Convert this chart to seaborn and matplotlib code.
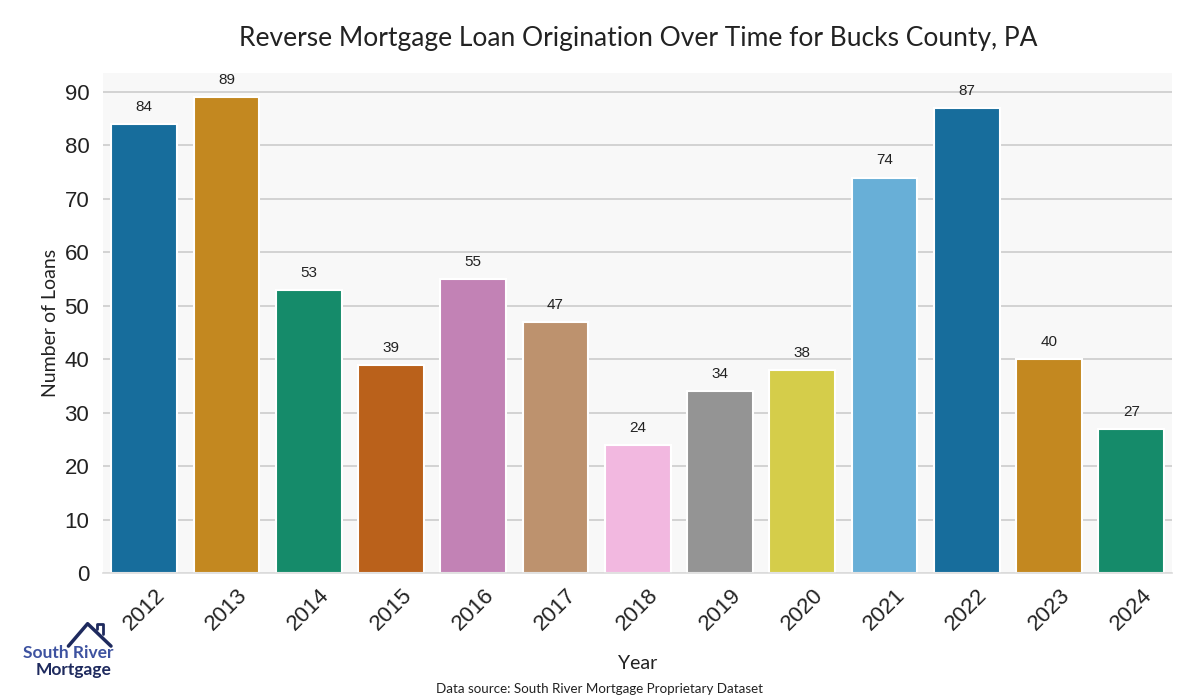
import numpy as np
import pandas as pd
import matplotlib.pyplot as plt
import seaborn as sns

sns.set_theme(style="whitegrid")
plt.rcParams['font.family'] = ['Liberation Sans', 'DejaVu Sans']

years = ['2012', '2013', '2014', '2015', '2016', '2017', '2018',
         '2019', '2020', '2021', '2022', '2023', '2024']
loans = [84, 89, 53, 39, 55, 47, 24, 34, 38, 74, 87, 40, 27]

df = pd.DataFrame({'Year': years, 'Loans': loans})
pal = sns.color_palette('colorblind', 10)
pal = [pal[i % 10] for i in range(len(years))]

fig = plt.figure(figsize=(12, 7), dpi=100)
ax = fig.add_axes([0.086, 0.181, 0.891, 0.714])
ax.set_facecolor('#f8f8f8')

sns.barplot(data=df, x='Year', y='Loans', hue='Year', palette=pal,
            legend=False, edgecolor='white', linewidth=1.5, ax=ax)

for p, v in zip(ax.patches, loans):
    ax.annotate(str(v), (p.get_x() + p.get_width() / 2, v + 1.9),
                ha='center', va='bottom', fontsize=11, color='#222222')

ax.set_ylim(0, max(loans) * 1.05)
ax.set_yticks(range(0, 91, 10))
ax.grid(axis='x', visible=False)
ax.grid(axis='y', color='#cccccc', linewidth=1.2)
for s in ax.spines.values():
    s.set_visible(False)
ax.spines['bottom'].set_visible(True)
ax.spines['bottom'].set_color('#dddddd')

ax.tick_params(axis='y', labelsize=16, colors='#222222', pad=4)
ax.tick_params(axis='x', labelsize=16, colors='#222222', rotation=45, pad=2)
for lbl in ax.get_xticklabels():
    lbl.set_ha('center')

ax.set_xlabel('Year', fontsize=14, family=['Lato', 'DejaVu Sans'], color='#222222', labelpad=15)
ax.set_ylabel('Number of Loans', fontsize=14, family=['Lato', 'DejaVu Sans'], color='#222222')
fig.text(0.532, 0.945, 'Reverse Mortgage Loan Origination Over Time for Bucks County, PA',
         ha='center', va='center', fontsize=19, family=['Lato', 'DejaVu Sans'], color='#222222')
fig.text(0.5, 0.016, 'Data source: South River Mortgage Proprietary Dataset',
         ha='center', va='center', fontsize=9.6, family=['Lato', 'DejaVu Sans'], color='#222222')

# logo
fig.text(0.019, 0.067, 'South River', ha='left', va='center', fontsize=12.5,
         fontweight='bold', color='#3d52a0', family=['Lato', 'DejaVu Sans'])
fig.text(0.030, 0.043, 'Mortgage', ha='left', va='center', fontsize=12.5,
         fontweight='bold', color='#1e2a5e', family=['Lato', 'DejaVu Sans'])
fig.add_artist(plt.Line2D([0.057, 0.073, 0.0925], [0.077, 0.109, 0.077],
                          transform=fig.transFigure, color='#1e2a5e', linewidth=2.5))
fig.add_artist(plt.Line2D([0.081, 0.081, 0.086, 0.086], [0.101, 0.109, 0.109, 0.094],
                          transform=fig.transFigure, color='#1e2a5e', linewidth=2))

fig.savefig('out.png', dpi=100)
